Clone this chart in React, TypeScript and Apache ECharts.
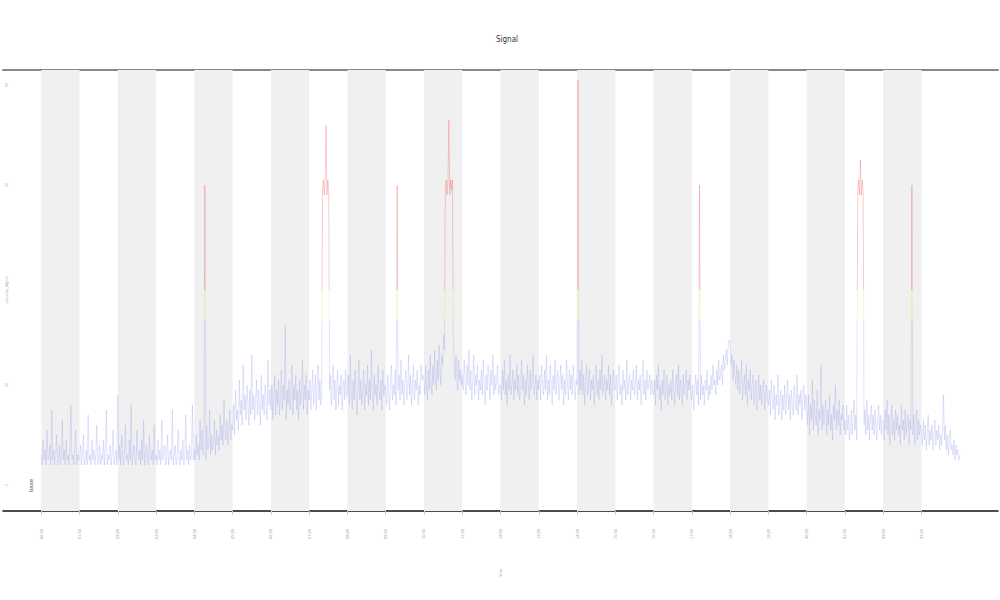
import React, { useEffect, useRef } from "react";
import * as echarts from "echarts";

const titleText = "Signal";
const xAxisName = "time";
const yAxisName = "intensity_signal";
const intervalLabels = [
  "00:00","01:00","02:00","03:00","04:00","05:00","06:00","07:00",
  "08:00","09:00","10:00","11:00","12:00","13:00","14:00","15:00",
  "16:00","17:00","18:00","19:00","20:00","21:00","22:00","23:00",
];
const yTickValues = [0, 20, 40, 60, 80];

const block00 = [6,4,9,5,7,4,11,5,6,8,4,15,5,7,4,6,10,4,5,8,4,6,13,5,7,4,9,5,6,4,8,16,5,6,4,7,11,4,6,5];
const block01 = [5,8,4,6,10,4,5,7,4,14,5,6,4,9,5,7,4,6,12,4,5,8,4,6,5,9,4,7,15,4,6,5,8,4,6,11,4,5,7,4];
const block02 = [18,5,8,4,10,6,4,7,12,5,6,4,9,5,16,4,6,8,5,4,11,6,5,7,4,9,5,13,4,6,8,5,4,10,6,5,7,4,12,5];
const block03 = [6,4,9,5,7,4,13,5,6,8,4,5,10,4,6,7,5,15,4,6,8,4,5,11,6,4,7,5,9,4,6,14,5,7,4,8,5,6,16,5];
const block04 = [7,5,10,6,8,5,13,7,11,6,9,60,5,12,7,8,15,6,10,7,9,13,6,11,8,10,7,14,9,12,8,17,10,9,13,8,11,15,9,12];
const block05 = [11,16,10,19,13,15,11,21,14,17,12,24,15,18,13,20,16,12,19,14,26,15,18,13,17,21,14,19,16,12,22,15,18,14,20,17,13,25,16,19];
const block06 = [15,20,13,18,22,14,19,16,21,14,18,23,15,20,17,32,13,19,16,21,15,18,24,14,20,17,22,15,19,13,21,16,18,25,15,20,17,22,14,19];
const block07 = [17,21,15,19,23,16,18,22,15,20,24,17,21,16,18,59,61,58,61,72,58,61,59,19,22,16,20,24,17,21,15,19,23,16,20,18,22,15,19,21,17,23,18];
const block08 = [18,22,16,26,19,15,21,17,23,18,14,20,25,17,21,16,19,23,15,20,18,24,16,21,17,27,19,15,22,18,20,16,24,19,17,21,15,23,18,20];
const block09 = [19,16,22,18,15,21,24,17,20,18,23,16,60,19,22,17,25,18,21,16,20,23,17,19,26,18,22,16,20,24,17,21,19,23,16,20,18,24,21,22];
const block10 = [21,18,24,20,17,23,19,26,21,18,24,20,27,22,19,25,21,28,23,20,26,24,30,27,59,61,58,61,73,58,61,59,61,28,24,21,26,22,19,25,21,23,20];
const block11 = [22,19,25,21,18,24,20,27,19,23,17,21,26,18,22,20,24,17,21,19,23,18,25,20,16,22,19,24,21,17,23,20,26,18,22,19,21,24,18,20];
const block12 = [20,17,23,19,25,18,21,16,22,19,26,18,20,23,17,21,19,24,18,22,17,20,25,19,22,16,21,18,24,20,17,23,19,21,26,18,20,22,17,21];
const block13 = [19,22,17,24,20,18,23,19,26,17,21,18,24,20,16,22,19,25,18,21,23,17,20,24,19,22,16,21,18,25,20,17,23,19,22,18,24,20,17,21];
const block14 = [20,81,18,23,19,25,18,22,16,21,24,18,20,23,17,21,19,22,16,20,24,18,21,17,23,19,26,18,20,22,17,21,19,24,18,22,16,20,23,19];
const block15 = [19,22,17,21,24,18,20,16,23,19,21,17,25,18,20,22,17,21,19,23,18,20,24,17,21,19,22,16,20,25,18,21,17,23,19,20,22,18,21,19];
const block16 = [18,21,16,22,19,24,17,20,15,21,18,23,17,19,22,16,20,18,21,17,23,19,16,20,22,18,24,17,21,19,16,22,18,20,23,17,21,19,22,18];
const block17 = [17,20,15,19,22,18,21,16,60,17,22,18,20,16,21,19,23,17,20,18,22,19,24,20,21,18,23,20,25,21,22,24,20,26,23,25,27,24,28,29];
const block18 = [28,24,26,21,25,22,20,24,19,23,18,21,25,17,20,22,18,24,16,21,19,23,17,20,22,16,19,21,15,18,22,17,20,16,19,21,15,18,20,17];
const block19 = [16,19,14,21,17,15,20,13,18,16,22,14,17,19,13,18,15,20,14,17,21,15,18,13,19,16,14,20,17,15,22,14,18,16,19,13,17,20,15,18];
const block20 = [15,12,18,10,16,13,21,11,17,14,12,19,10,15,13,24,11,16,12,14,17,10,15,12,18,11,14,9,16,13,20,11,15,12,17,10,14,13,16,11];
const block21 = [13,10,16,11,14,9,12,15,10,13,17,11,14,9,59,61,58,65,58,61,59,12,15,10,17,11,14,9,13,16,11,14,10,15,12,9,13,16,11,14,10,13];
const block22 = [13,9,15,11,17,10,14,8,12,16,10,13,9,15,11,14,10,12,8,16,11,13,9,15,10,12,14,8,13,11,60,10,14,8,12,15,9,13,10,12];
const block23 = [11,8,13,9,12,7,10,14,8,11,9,12,7,10,13,8,11,9,12,7,10,8,11,18,9,12,7,10,6,9,11,7,8,6,9,5,8,6,7,5];
const finalValue = [6];

const blocks = [
  block00, block01, block02, block03, block04, block05, block06, block07,
  block08, block09, block10, block11, block12, block13, block14, block15,
  block16, block17, block18, block19, block20, block21, block22, block23, finalValue,
];

export default function App() {
  const ref = useRef<HTMLDivElement>(null);
  useEffect(() => {
    if (!ref.current) return;
    const chart = echarts.init(ref.current, undefined, { renderer: "svg" });
    const data: number[][] = [];
    blocks.forEach((b, k) => {
      b.forEach((v, j) => data.push([k + j / b.length, v]));
    });
    const bands: any[] = [];
    for (let k = 0; k < intervalLabels.length; k += 2) {
      bands.push([{ xAxis: k }, { xAxis: k + 1 }]);
    }
    const tickVals = intervalLabels.map((_, i) => i);
    chart.setOption({
      animation: false,
      backgroundColor: "#ffffff",
      title: {
        text: titleText,
        left: 502,
        top: 30,
        textAlign: "center",
        textStyle: { fontSize: 8, color: "#333", fontWeight: "normal", fontFamily: "Liberation Sans Narrow, DejaVu Sans Condensed, sans-serif" },
      },
      grid: { left: 3, right: 2, top: 70, bottom: 89, outerBoundsMode: "none", containLabel: false },
      xAxis: [
        {
          type: "value",
          min: -1,
          max: 25,
          name: xAxisName,
          nameLocation: "middle",
          nameGap: 58,
          nameRotate: 90,
          nameTextStyle: { fontSize: 4, color: "#999" },
          axisLine: { onZero: false, lineStyle: { color: "#111", width: 1.5 } },
          axisTick: { show: true, length: 4, customValues: tickVals, lineStyle: { color: "#ccc" } },
          axisLabel: {
            customValues: tickVals,
            formatter: (v: number) => intervalLabels[v] ?? "",
            rotate: 90,
            fontSize: 4,
            color: "#999",
            margin: 18,
          },
          splitLine: { show: false },
        },
        {
          type: "value",
          position: "top",
          min: -1,
          max: 25,
          axisLine: { onZero: false, lineStyle: { color: "#888", width: 2 } },
          axisTick: { show: false },
          axisLabel: { show: false },
          splitLine: { show: false },
        },
      ],
      yAxis: {
        type: "value",
        min: -5.2,
        max: 83,
        axisLine: { show: false },
        axisTick: { show: false },
        splitLine: { show: false },
        axisLabel: {
          customValues: yTickValues,
          inside: true,
          rotate: 90,
          fontSize: 4,
          color: "#bbb",
          margin: 1,
        },
      },
      visualMap: {
        show: false,
        type: "piecewise",
        seriesIndex: 1,
        dimension: 1,
        pieces: [
          { lt: 33, color: "#8a90ea" },
          { gte: 33, lt: 39, color: "#dcdc4a" },
          { gte: 39, color: "#ee3636" },
        ],
      },
      series: [
        {
          type: "line",
          data: [],
          silent: true,
          markArea: {
            silent: true,
            itemStyle: { color: "#f0f0f0" },
            data: bands,
          },
        },
        {
          type: "line",
          data,
          symbol: "none",
          silent: true,
          lineStyle: { width: 0.5, opacity: 0.5 },
        },
      ],
      graphic: [
        {
          type: "text",
          x: 6,
          y: 290,
          rotation: Math.PI / 2,
          style: { text: yAxisName, fontSize: 4, fill: "#bbb", align: "center", verticalAlign: "middle" },
        },
        {
          type: "text",
          x: 28,
          y: 492,
          rotation: Math.PI / 2,
          style: { text: "base", fontSize: 6, fill: "#555" },
        },
      ],
    });
    return () => chart.dispose();
  }, []);
  return <div ref={ref} style={{ width: 1000, height: 600, position: "absolute", left: 0, top: 0 }} />;
}
